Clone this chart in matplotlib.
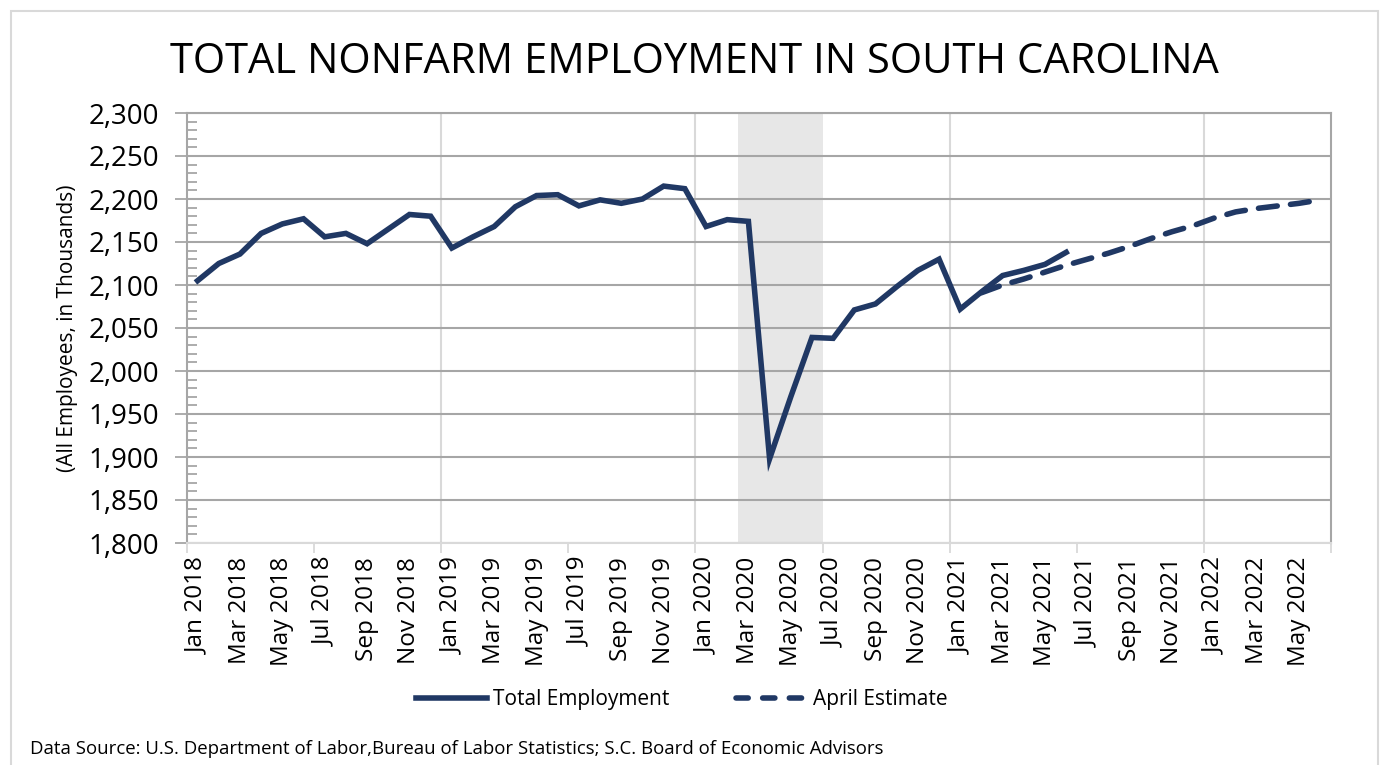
import matplotlib.pyplot as plt
from matplotlib.patches import Rectangle
from matplotlib.lines import Line2D
from matplotlib.ticker import FuncFormatter, MultipleLocator

# monthly, Jan 2018 .. Jun 2022 (54 months)
n_months = 54
tick_labels = ['Jan 2018', 'Mar 2018', 'May 2018', 'Jul 2018', 'Sep 2018', 'Nov 2018',
               'Jan 2019', 'Mar 2019', 'May 2019', 'Jul 2019', 'Sep 2019', 'Nov 2019',
               'Jan 2020', 'Mar 2020', 'May 2020', 'Jul 2020', 'Sep 2020', 'Nov 2020',
               'Jan 2021', 'Mar 2021', 'May 2021', 'Jul 2021', 'Sep 2021', 'Nov 2021',
               'Jan 2022', 'Mar 2022', 'May 2022']

# Total employment, Jan 2018 .. Jun 2021
total = [2105, 2125, 2136, 2160, 2171, 2177, 2156, 2160, 2148, 2165, 2182, 2180,
         2143, 2156, 2168, 2191, 2204, 2205, 2192, 2199, 2195, 2200, 2215, 2212,
         2168, 2176, 2174, 1898, 1970, 2039, 2038, 2071, 2078, 2098, 2117, 2130,
         2072, 2092, 2111, 2117, 2124, 2138]
# April estimate, Feb 2021 .. Jun 2022
estimate_start = 37
estimate = [2091, 2100, 2107, 2115, 2123, 2130, 2137, 2145, 2154, 2162, 2169,
            2178, 2185, 2189, 2192, 2195, 2199]

# recession shading Mar 2020 .. Jun 2020
shade_from, shade_to = 26, 29

navy = '#203864'
grid_dark = '#a6a6a6'
grid_light = '#d9d9d9'
font = 'Open Sans'
plt.rcParams['font.family'] = [font, 'DejaVu Sans']

fig = plt.figure(figsize=(13.83, 7.65), dpi=100)
ax = fig.add_axes([187/1383, 1 - 543/765, (1331-187)/1383, (543-113)/765])

# chart border
fig.patches.append(Rectangle((11/1383, -0.05), (1378-11)/1383, 1 - 11/765 + 0.05,
                             transform=fig.transFigure, fill=False,
                             edgecolor=grid_light, linewidth=1.5))

ax.axvspan(shade_from - 0.5, shade_to + 0.5, color='#e7e7e7', lw=0, zorder=0.2)

x_total = list(range(len(total)))
x_est = list(range(estimate_start, estimate_start + len(estimate)))
ax.plot(x_total, total, color=navy, lw=4, solid_joinstyle='miter', zorder=3)
ax.plot(x_est, estimate, color=navy, lw=4, dashes=(3.4, 2.4),
        dash_capstyle='round', zorder=3)

ax.set_xlim(-0.5, n_months - 0.5)
ax.set_ylim(1800, 2300)

# y axis
ax.yaxis.set_major_locator(MultipleLocator(50))
ax.yaxis.set_minor_locator(MultipleLocator(10))
ax.yaxis.set_major_formatter(FuncFormatter(lambda v, p: f'{int(v):,}'))
ax.tick_params(axis='y', which='major', direction='out', length=9, width=1.3,
               color=grid_dark, labelsize=20, pad=11)
ax.tick_params(axis='y', which='minor', direction='in', length=7, width=1.3,
               color=grid_dark)
ax.grid(axis='y', which='major', color=grid_dark, lw=1.5)
ax.set_axisbelow(True)

# x axis: labels every 2 months, ticks every 6 months, grid each January
ax.set_xticks(range(0, n_months, 2))
ax.set_xticklabels(tick_labels, rotation=90)
ax.tick_params(axis='x', which='major', length=0, labelsize=17.5, pad=10)
ax.set_xticks([m - 0.5 for m in range(0, n_months + 1, 6)], minor=True)
ax.tick_params(axis='x', which='minor', direction='out', length=7, width=1.3,
               color=grid_light)
for m in range(12, n_months, 12):
    ax.axvline(m - 0.5, color=grid_light, lw=1.5, zorder=0.4)

for s in ['left', 'right', 'top']:
    ax.spines[s].set_color(grid_dark)
    ax.spines[s].set_linewidth(1.5)
ax.spines['bottom'].set_color(grid_light)
ax.spines['bottom'].set_linewidth(1.5)

ax.set_ylabel('(All Employees, in Thousands)', fontsize=15)
ax.yaxis.set_label_coords(-0.095, 0.5)

fig.text(694/1383, 1 - 62/765, 'TOTAL NONFARM EMPLOYMENT IN SOUTH CAROLINA',
         ha='center', va='center', fontsize=30)

handles = [Line2D([], [], color=navy, lw=4),
           Line2D([], [], color=navy, lw=4, dashes=(2.2, 2.6), dash_capstyle='round')]
fig.legend(handles, ['Total Employment', 'April Estimate'], loc='center',
           bbox_to_anchor=(682/1383, 1 - 700/765), ncol=2, frameon=False,
           fontsize=15, handlelength=3.4, handletextpad=0.3, columnspacing=3.2)

fig.text(30/1383, 1 - 749/765,
         'Data Source: U.S. Department of Labor,Bureau of Labor Statistics; S.C. Board of Economic Advisors',
         ha='left', va='center', fontsize=13.4)

fig.savefig('out.png', dpi=100)
